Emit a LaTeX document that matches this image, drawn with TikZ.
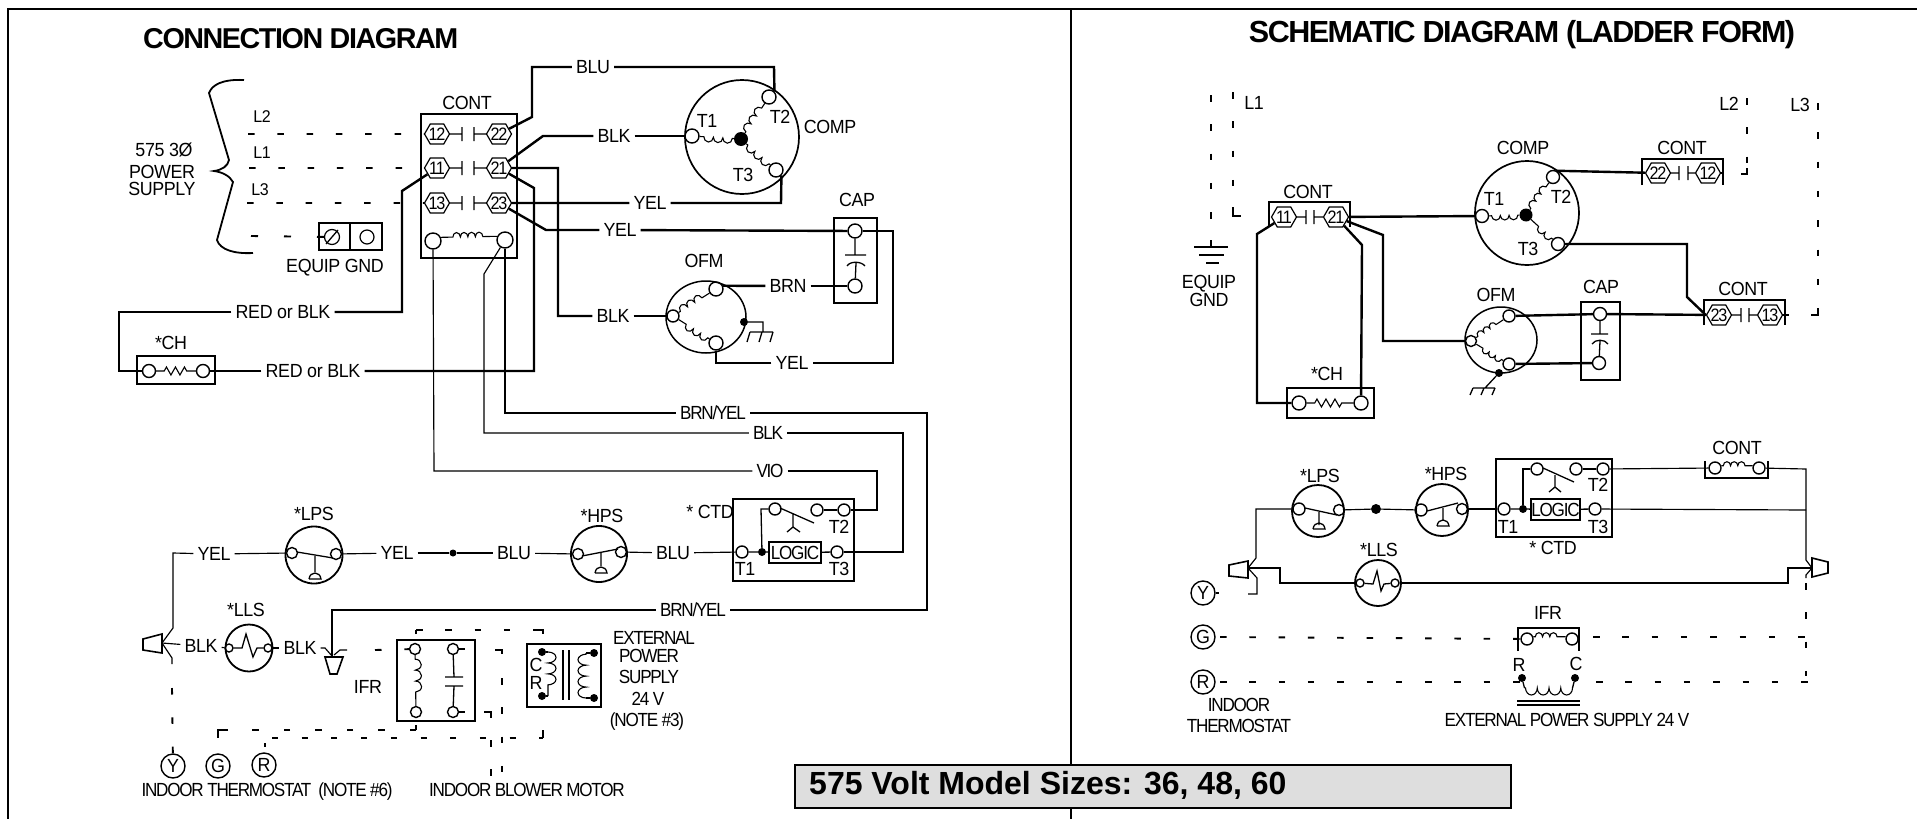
\documentclass[tikz,border=0pt]{standalone}
\usepackage{fontspec}
\setmainfont{Liberation Sans}[LetterSpace=-2,FakeStretch=0.94]
\newfontfamily\boxfont{Liberation Sans}
\newfontfamily\ttlfont{Liberation Sans}[LetterSpace=-5]
\newfontfamily\condfam{Liberation Sans}[LetterSpace=-6.5,FakeStretch=0.9]
\usetikzlibrary{shapes.geometric,shapes.symbols,decorations.pathmorphing}
\newcommand{\lblfont}{\fontsize{19}{21}\selectfont}
\newcommand{\hexfont}{\condfam\fontsize{18}{20}\selectfont}
\newcommand{\bellsym}[2]{\draw[devline,shift={(#1,#2)}] (-6,0) -- (6,0) .. controls (5,-8) and (-5,-8) .. (-6,0);}
\tikzset{
 wthick/.style={line width=2.4},
 wthin/.style={line width=1.15},
 devline/.style={line width=1.3},
 dashw/.style={line width=1.9,dash pattern=on 6.5pt off 22.8pt},
 lab/.style={inner xsep=4,inner ysep=0,font=\lblfont},
 labc/.style={inner xsep=4,inner ysep=0,font=\condfam\lblfont},
 txt/.style={inner sep=0,font=\lblfont},
 txts/.style={inner sep=0,font=\fontsize{17}{19}\selectfont},
 txtc/.style={inner sep=0,font=\condfam\lblfont},
 term/.style={circle,draw,line width=1.4,minimum size=13,inner sep=0},
 sterm/.style={circle,draw,line width=1.4,minimum size=10,inner sep=0},
 fdot/.style={circle,fill=black,minimum size=8,inner sep=0},
 sdot/.style={circle,fill=black,minimum size=14,inner sep=0},
 hexn/.style={shape=signal,signal to=east and west,signal pointer angle=120,draw,line width=1.2,minimum width=25,minimum height=20,inner sep=0,font=\hexfont},
 boxn/.style={rectangle,draw,line width=1.6,inner sep=0},
 gcirc/.style={circle,draw,line width=1.4,minimum size=24,inner sep=0,font=\lblfont},
 swc/.style={circle,draw,line width=1.8,inner sep=0},
 bumpw/.style={line width=1.1,decorate,decoration={bumps,segment length=19,amplitude=5,pre=lineto,pre length=1.5,post=lineto,post length=1.5}},
 bumpq/.style={line width=1.1,decorate,decoration={bumps,segment length=17.5,amplitude=4.5,pre=lineto,pre length=1.5,post=lineto,post length=1.5}},
 bumpo/.style={line width=1.1,decorate,decoration={bumps,segment length=17,amplitude=5,pre=lineto,pre length=2,post=lineto,post length=2}},
 bumpc/.style={line width=1.1,decorate,decoration={bumps,segment length=15,amplitude=4.5,pre=lineto,pre length=12,post=lineto,post length=12}},
 bumpsm/.style={line width=1.1,decorate,decoration={bumps,segment length=14.5,amplitude=4,pre=lineto,pre length=2,post=lineto,post length=2}},
 bumpx/.style={line width=1.1,decorate,decoration={bumps,segment length=21.9,amplitude=8,pre=lineto,pre length=0,post=lineto,post length=0}},
 zigw/.style={line width=1.1,decorate,decoration={zigzag,segment length=9,amplitude=4,pre=lineto,pre length=8,post=lineto,post length=8}},
}
\begin{document}
\begin{tikzpicture}[x=1pt,y=-1pt]
\useasboundingbox (0,0) rectangle (1917,819);
\coordinate (fTL) at (8,9); \coordinate (fTR) at (1917,9); \coordinate (fBL) at (8,819);
\coordinate (fDT) at (1071,9); \coordinate (fDB) at (1071,819);
\draw[line width=2.4] (fBL) -- (fTL) -- (fTR);
\draw[line width=2] (fDT) -- (fDB);
\node[inner sep=0,anchor=west,font=\ttlfont\fontsize{28.7}{30}\selectfont\bfseries] (tConn) at (143,39) {CONNECTION DIAGRAM};
\node[inner sep=0,font=\ttlfont\fontsize{30.5}{32}\selectfont\bfseries] (tSchem) at (1522,35) {SCHEMATIC DIAGRAM (LADDER FORM)};
% ---------------- supply
\draw[line width=1.8] (253,253) .. controls (235,254) and (220,250) .. (217,240) -- (233,182) .. controls (230,176) and (222,172) .. (214,171) .. controls (222,170) and (228,166) .. (229,160) -- (209,93) .. controls (212,85) and (222,79) .. (244,80);
\node[txt] (t575) at (164,150) {575 3Ø};
\node[txt] (tPow) at (162,172) {POWER};
\node[txt] (tSup) at (162,189) {SUPPLY};
\node[txts] (tL2) at (262,117) {L2};
\node[txts] (tL1) at (262,153) {L1};
\node[txts] (tL3) at (260,190) {L3};
\node[hexn] (h12) at (437,134) {\makebox[0pt]{12}};
\node[hexn] (h22) at (499,134) {\makebox[0pt]{22}};
\node[hexn] (h11) at (437,168) {\makebox[0pt]{11}};
\node[hexn] (h21) at (499,168) {\makebox[0pt]{21}};
\node[hexn] (h13) at (437,203) {\makebox[0pt]{13}};
\node[hexn] (h23) at (499,203) {\makebox[0pt]{23}};
\node[boxn,line width=2.2,minimum width=96,minimum height=144] (cCONT) at (469,186) {};
\node[txt] at (467,103) (tCont) {CONT};
\foreach \ya/\yb/\na/\nb in {134/134/h12/h22,168/168/h11/h21,203/203/h13/h23}{
  \draw[devline] (\na) -- (462,\ya) (462,\ya-7) -- (462,\ya+7) (474,\ya-7) -- (474,\ya+7) (474,\ya) -- (\nb);
}
\coordinate (dL2) at (248,134); \coordinate (dL1) at (249,168); \coordinate (dL3) at (247,203); \coordinate (dG) at (251,236);
\draw[dashw] (dL2) -- (h12);
\draw[dashw] (dL1) -- (h11);
\draw[dashw] (dL3) -- (h13);
\node[boxn,minimum width=63,minimum height=27] (gBox) at (350.5,236.5) {};
\draw[devline] (350,223) -- (350,250);
\node[swc,line width=1.2,minimum size=15] (gSl) at (332,237) {};
\node[swc,line width=1.2,minimum size=14] (gOp) at (367,237) {};
\draw[devline] (326,244) -- (338,230);
\draw[line width=1.9,dash pattern=on 7pt off 26pt] (dG) -- (gSl);
\node[txt] (tEq) at (335,268) {EQUIP GND};
\node[term,minimum size=16] (cC1) at (433,241) {};
\node[term,minimum size=16] (cC2) at (505,240) {};
\draw[bumpc] (cC1.25) -- (cC2.155);
% ---------------- compressor
\node[circle,draw,line width=1.7,minimum size=114,inner sep=0] (cCOMP) at (742,137) {};
\node[term,minimum size=14] (cT1) at (692,136) {};
\node[term,minimum size=14] (cT2) at (769,97) {};
\node[term,minimum size=14] (cT3) at (776,170) {};
\node[sdot] (cCen) at (741,139) {};
\draw[bumpw] (cCen) -- (cT1);
\draw[bumpw] (cCen) -- (cT2);
\draw[bumpw] (cT3) -- (cCen);
\node[txt] (tT1) at (707,121) {T1};
\node[txt] (tT2) at (780,117) {T2};
\node[txt] (tT3) at (743,175) {T3};
\node[txt] (tCOMP) at (830,127) {COMP};
% ---------------- OFM, CAP
\node[ellipse,draw,line width=1.5,minimum width=80,minimum height=72,inner sep=0] (cOFM) at (706,317) {};
\node[term,minimum size=14] (oT) at (716,289) {};
\node[term,minimum size=12] (oL) at (673,316) {};
\node[term,minimum size=14] (oB) at (716,343) {};
\draw[bumpo] (oL) -- (oT);
\draw[bumpo] (oB) -- (oL);
\node[fdot] (oD) at (744,322) {};
\draw[devline] (oD) -- (763,322) -- (763,332) (750,332) -- (773,332) (750,332) -- (747,342) (762,332) -- (759,342) (773,332) -- (770,342);
\node[txt] (tOFM) at (704,261) {OFM};
\node[boxn,minimum width=43,minimum height=85] (cCAP) at (855.5,260.5) {};
\node[term,minimum size=14] (cCt) at (855,231) {};
\node[term,minimum size=14] (cCb) at (855,286) {};
\draw[devline] (cCt) -- (855,255) (845,255) -- (866,255) (847,266) .. controls (850,261) and (861,261) .. (865,266) (856,263) -- (cCb);
\node[txt] (tCAP) at (857,200) {CAP};
% ---------------- labels on power wires
\node[lab] (lBLU) at (593,67) {BLU};
\node[lab] (lBLK1) at (614,136) {BLK};
\node[lab] (lYEL1) at (650,203) {YEL};
\node[lab] (lYEL2) at (620,230) {YEL};
\node[lab] (lBLK2) at (613,316) {BLK};
\node[lab] (lBRN) at (788,286) {BRN};
\node[lab] (lYEL3) at (792,363) {YEL};
\node[lab] (lRB1) at (283,312) {RED or BLK};
\node[lab] (lRB2) at (313,371) {RED or BLK};
% ---------------- CH
\node[boxn,minimum width=78,minimum height=28] (cCH) at (176,370) {};
\node[term,minimum size=13] (cH1) at (149,371) {};
\node[term,minimum size=13] (cH2) at (203,371) {};
\draw[zigw] (cH1) -- (cH2);
\node[txt] (tCH) at (171,343) {*CH};
% ---------------- thick wires
\draw[wthick] (h22) -- (532,117) -- (532,67) -- (lBLU);
\draw[wthick] (lBLU) -- (774,67) -- (cT2.north east);
\draw[wthick] (h21) -- (543,136) -- (lBLK1);
\draw[wthick] (lBLK1) -- (cT1);
\draw[wthick] (h21) -- (558,168) -- (558,316) -- (lBLK2);
\draw[wthick] (lBLK2) -- (oL);
\draw[wthick] (h21) -- (534,188) -- (534,371) -- (lRB2);
\draw[wthick] (lRB2) -- (cH2);
\draw[wthick] (h23) -- (lYEL1);
\draw[wthick] (lYEL1) -- (781,203) -- (cT3.south east);
\draw[wthick] (h23) -- (546,230) -- (lYEL2);
\draw[wthick] (lYEL2) -- (cCt);
\draw[wthick] (cCt) -- (893,231) -- (893,363) -- (lYEL3);
\draw[wthick] (lYEL3) -- (716,363) -- (oB);
\draw[wthick] (oT.25) -- (lBRN);
\draw[wthick] (lBRN) -- (cCb);
\draw[wthick] (h11) -- (402,191) -- (402,312) -- (lRB1);
\draw[wthick] (lRB1) -- (119,312) -- (119,371) -- (cH1);
% ---------------- control row, left
\node[circle,draw,line width=1.8,minimum size=57,inner sep=0] (lpsC) at (314,555) {};
\node[sterm,minimum size=11] (lpsA) at (292,553) {};
\node[sterm,minimum size=11] (lpsB) at (336,554) {};
\draw[devline] (297,552) -- (333,558) (315,556) -- (315,572);
\bellsym{315}{579}
\node[txt] (tLPS) at (314,514) {*LPS};
\node[circle,draw,line width=1.8,minimum size=56,inner sep=0] (hpsC) at (599,554) {};
\node[sterm,minimum size=11] (hpsA) at (578,554) {};
\node[sterm,minimum size=11] (hpsB) at (621,552) {};
\draw[devline] (582,556) -- (618,549) (601,552) -- (601,566);
\bellsym{601}{573}
\node[txt] (tHPS) at (602,516) {*HPS};
\node[fdot,minimum size=7] (dotJ) at (453,553) {};
\node[lab] (lYa) at (214,554) {YEL};
\node[lab] (lYb) at (397,553) {YEL};
\node[lab] (lBa) at (514,553) {BLU};
\node[lab] (lBb) at (673,553) {BLU};
\node[labc] (lVIO) at (770,471) {VIO};
\node[labc] (lBLK3) at (768,433) {BLK};
\node[labc] (lBY1) at (713,413) {BRN/YEL};
\node[labc] (lBY2) at (693,610) {BRN/YEL};
% CTD
\node[boxn,minimum width=121,minimum height=82] (dCTD) at (793.5,540) {};
\node[boxn,line width=1.4,minimum width=52,minimum height=21,font=\condfam\lblfont] (dLOG) at (795,552.5) {LOGIC};
\node[term,minimum size=12] (dT1) at (742,552) {};
\node[term,minimum size=12] (dT2) at (844,510) {};
\node[term,minimum size=12] (dT3) at (837,552) {};
\node[term,minimum size=12] (dM) at (817,510) {};
\node[term,minimum size=12] (dC) at (775,509) {};
\node[fdot] (dJ) at (762,552) {};
\draw[devline] (dT1) -- (dJ) -- (dLOG);
\draw[devline] (dLOG) -- (dT3);
\draw[devline] (dJ) -- (761,509) -- (dC);
\draw[devline] (dM) -- (dT2);
\draw[devline] (780,508) -- (814,523) (793,514) -- (793,527) (787,532) -- (793,527) -- (800,532);
\node[txt] (tdT2) at (839,527) {T2};
\node[txt] (tdT1) at (745,569) {T1};
\node[txt] (tdT3) at (839,569) {T3};
\node[txt] (tCTD) at (710,512) {* CTD};
% plugs
\coordinate (pL) at (162,643); \coordinate (pR) at (332,656);
\draw[line width=1.6] (162,634) -- (162,653) -- (143,650) -- (143,639) -- cycle;
\draw[line width=1.6] (325,657) -- (343,657) -- (337,674) -- (330,674) -- cycle;
% LLS
\node[circle,draw,line width=1.8,minimum size=47,inner sep=0] (llsC) at (249,648) {};
\node[sterm,minimum size=8] (llsA) at (229,648) {};
\node[sterm,minimum size=8] (llsB) at (268,648) {};
\draw[devline] (llsA) -- (242,648) -- (246,634) -- (253,657) -- (257,648) -- (llsB);
\node[txt] (tLLS) at (246,610) {*LLS};
\node[lab] (lBKa) at (201,646) {BLK};
\node[lab] (lBKb) at (300,648) {BLK};
\draw[wthin] (pL) -- (173,628) -- (173,553) -- (lYa);
\draw[wthin] (lYa) -- (lpsA);
\draw[wthin] (lpsB) -- (lYb);
\draw[wthin] (lYb) -- (dotJ);
\draw[wthin] (dotJ) -- (lBa);
\draw[wthin] (lBa) -- (hpsA);
\draw[wthin] (hpsB) -- (lBb);
\draw[wthin] (lBb) -- (dT1);
\draw[wthin] (pL) -- (lBKa);
\draw[wthin] (lBKa) -- (llsA);
\draw[wthin] (llsB) -- (lBKb);
\draw[wthin] (lBKb) -- (325,648) -- (pR);
\draw[wthin] (cC1) -- (434,471) -- (lVIO);
\draw[wthin] (lVIO) -- (877,471) -- (877,510) -- (dT2);
\draw[wthin] (cC2) -- (505,413) -- (lBY1);
\draw[wthin] (lBY1) -- (927,413) -- (927,610) -- (lBY2);
\draw[wthin] (lBY2) -- (332,610) -- (pR);
\draw[wthin] (cC2) -- (484,274) -- (484,433) -- (lBLK3);
\draw[wthin] (lBLK3) -- (903,433) -- (903,552) -- (dT3);
% IFR
\node[boxn,minimum width=78,minimum height=81] (iBox) at (436,680.5) {};
\node[sterm,minimum size=11] (iA) at (415,649) {};
\node[sterm,minimum size=11] (iB) at (416,712) {};
\node[sterm,minimum size=11] (iC) at (453,649) {};
\node[sterm,minimum size=11] (iD) at (453,712) {};
\draw[line width=1.1,decorate,decoration={bumps,segment length=21.9,amplitude=6,pre=lineto,pre length=4,post=lineto,post length=4}] (iA) -- (iB);
\draw[devline] (iC) -- (454,677) (445,677) -- (463,677) (445,686) -- (463,686) (454,686) -- (iD);
\node[txt] (tIFR) at (368,687) {IFR};
% transformer
\node[boxn,minimum width=74,minimum height=63] (xBox) at (564,675.5) {};
\node[fdot] (xA) at (542,652) {};
\node[fdot] (xB) at (542,696) {};
\node[fdot] (xC) at (594,653) {};
\node[fdot] (xD) at (594,698) {};
\draw[devline] (xA) -- (548,652) (xB) -- (548,696) (xC) -- (586,653) (xD) -- (586,698) (563,650) -- (563,700) (569,650) -- (569,700);
\draw[bumpx] (548,652) -- (548,696);
\draw[bumpx] (586,698) -- (586,653);
\node[txt] (tC) at (536,665) {C};
\node[txt] (tR) at (536,683) {R};
\node[txtc] (tE1) at (654,638) {EXTERNAL};
\node[txtc] (tE2) at (649,656) {POWER};
\node[txtc] (tE3) at (649,677) {SUPPLY};
\node[txtc] (tE4) at (648,699) {24 V};
\node[txtc] (tE5) at (647,722) {(NOTE \#3)};
% thermostat
\node[gcirc] (gY) at (173,766) {Y};
\node[gcirc] (gG) at (218,766) {G};
\node[gcirc] (gR) at (264,765) {R};
\node[txtc] (tIT) at (267,792) {INDOOR THERMOSTAT\ \ (NOTE \#6)};
\node[txtc] (tIB) at (527,790) {INDOOR BLOWER MOTOR};
\coordinate (k1) at (172,688); \coordinate (k2) at (172,658);
\draw[wthin] (pL) -- (k2) -- (172,664);
\draw[dashw] (k1) -- (gY);
\coordinate (k3) at (340,650); \coordinate (k4) at (375,650);
\draw[wthin] (334,655) -- (k3) -- (347,650);
\draw[dashw] (k4) -- (iA);
\coordinate (k5) at (416,630); \coordinate (k6) at (533,630);
\draw[wthin] (416,634) -- (k5);
\draw[dashw] (k5) -- (k6);
\draw[wthin] (k6) -- (543,630) -- (543,634);
\draw[wthick] (iC) -- (465,649);
\draw[wthick] (iD) -- (465,712);
\draw[wthick] (495,650) -- (502,650) -- (502,654);
\draw[wthick] (484,712) -- (491,712) -- (491,718);
\coordinate (k7) at (502,678); \coordinate (k8) at (502,772);
\draw[dashw] (k7) -- (k8);
\coordinate (k9) at (491,740); \coordinate (k10) at (491,776);
\draw[dashw] (k9) -- (k10);
\coordinate (k11) at (416,730); \coordinate (k12) at (222,730);
\draw[line width=1.9,dash pattern=on 6.5pt off 25pt] (k11) -- (k12);
\draw[wthin] (416,725) -- (k11);
\draw[wthin] (228,730) -- (218,730) -- (218,738);
\coordinate (k13) at (272,738); \coordinate (k14) at (543,738);
\draw[line width=1.9,dash pattern=on 6pt off 23.7pt] (k13) -- (k14);
\draw[wthin] (k14) -- (543,730);
\draw[wthin] (265,743) -- (265,747);
% title box
\node[rectangle,draw,line width=2.5,fill=black!13,minimum width=716,minimum height=43,inner sep=0] (bTitle) at (1153,786.5) {};
\node[inner sep=0,anchor=west,font=\boxfont\fontsize{32}{34}\selectfont\bfseries] (bTxt) at (809,785) {575 Volt Model Sizes: 36, 48, 60};
% ================= schematic
\coordinate (q1) at (1211,95); \coordinate (q2) at (1211,240); \coordinate (q3) at (1233,92); \coordinate (q4) at (1233,214); \coordinate (gn) at (1211,247);
\draw[dashw] (q1) -- (q2);
\draw[dashw] (q3) -- (q4);
\draw[wthick] (1233,207) -- (1233,216) -- (1241,216);
\draw[wthick] (q2) -- (gn);
\draw[wthick] (1194,247) -- (1228,247) (1199,255) -- (1224,255) (1206,263) -- (1219,263);
\node[txt] (sL1) at (1254,103) {L1};
\node[txt] (sL2) at (1729,104) {L2};
\node[txt] (sL3) at (1800,105) {L3};
\node[txt] (sEq1) at (1209,284) {EQUIP};
\node[txt] (sEq2) at (1209,300) {GND};
\coordinate (q5) at (1747,98); \coordinate (q6) at (1747,166); \coordinate (q7) at (1818,103); \coordinate (q8) at (1818,312);
\draw[dashw] (q5) -- (q6);
\draw[dashw] (q7) -- (q8);
\draw[wthick] (1741,174) -- (1747,174) -- (1747,168);
\draw[wthick] (1811,315) -- (1818,315) -- (1818,309);
% cont blocks
\node[hexn] (sh11) at (1284,217) {\makebox[0pt]{11}};
\node[hexn] (sh21) at (1336,217) {\makebox[0pt]{21}};
\node[hexn] (sh22) at (1658,173) {\makebox[0pt]{22}};
\node[hexn] (sh12) at (1708,173) {\makebox[0pt]{12}};
\node[hexn] (sh23) at (1719,315) {\makebox[0pt]{23}};
\node[hexn] (sh13) at (1770,315) {\makebox[0pt]{13}};
\node[txt] (sC1) at (1308,192) {CONT};
\node[txt] (sC2) at (1682,148) {CONT};
\node[txt] (sC3) at (1743,289) {CONT};
\draw[wthick] (1269,227) -- (1269,202) -- (1350,202) -- (1350,227);
\draw[wthick] (1642,185) -- (1642,159) -- (1723,159) -- (1723,185);
\draw[wthick] (1704,325) -- (1704,300) -- (1785,300) -- (1785,325);
\draw[devline] (sh11) -- (1306,217) (1306,210) -- (1306,224) (1314,210) -- (1314,224) (1314,217) -- (sh21);
\draw[devline] (sh22) -- (1679,173) (1679,166) -- (1679,180) (1688,166) -- (1688,180) (1688,173) -- (sh12);
\draw[devline] (sh23) -- (1741,315) (1741,308) -- (1741,322) (1749,308) -- (1749,322) (1749,315) -- (sh13);
\draw[wthick] (sh12.east) -- (1723,173);
\draw[wthick] (sh13.east) -- (1789,315);
% comp
\node[circle,draw,line width=1.7,minimum size=104,inner sep=0] (sCOMP) at (1527,213) {};
\node[term] (sT1) at (1482,216) {};
\node[term] (sT2) at (1553,177) {};
\node[term] (sT3) at (1558,244) {};
\node[sdot,minimum size=13] (sCen) at (1526,215) {};
\draw[bumpq] (sCen) -- (sT1);
\draw[bumpq] (sCen) -- (sT2);
\draw[bumpq] (sT3) -- (sCen);
\node[txt] (stT1) at (1494,199) {T1};
\node[txt] (stT2) at (1561,197) {T2};
\node[txt] (stT3) at (1528,249) {T3};
\node[txt] (sCOMPt) at (1523,148) {COMP};
% ofm
\node[ellipse,draw,line width=1.5,minimum width=72,minimum height=66,inner sep=0] (sOFM) at (1501,340) {};
\node[term,minimum size=12] (sOT) at (1509,316) {};
\node[term,minimum size=11] (sOL) at (1471,341) {};
\node[term,minimum size=12] (sOB) at (1509,364) {};
\draw[bumpsm] (sOL) -- (sOT);
\draw[bumpsm] (sOB) -- (sOL);
\node[fdot] (sOD) at (1499,373) {};
\draw[devline] (sOD) -- (1485,388) (1473,388) -- (1495,388) (1473,388) -- (1470,395) (1484,388) -- (1481,395) (1495,388) -- (1492,395);
\node[txt] (sOFMt) at (1496,295) {OFM};
% cap
\node[boxn,minimum width=39,minimum height=78] (sCAP) at (1600.5,341) {};
\node[term] (sCt) at (1600,314) {};
\node[term] (sCb) at (1599,363) {};
\draw[devline] (sCt) -- (1600,334) (1591,334) -- (1608,334) (1592,344) .. controls (1595,339) and (1605,339) .. (1608,344) (1600,341) -- (sCb);
\node[txt] (sCAPt) at (1601,287) {CAP};
% ch
\node[boxn,minimum width=87,minimum height=30] (sCH) at (1330.5,403) {};
\node[term,minimum size=14] (sH1) at (1299,403) {};
\node[term,minimum size=14] (sH2) at (1361,403) {};
\draw[zigw] (sH1) -- (sH2);
\node[txt] (sCHt) at (1327,374) {*CH};
% power wires
\draw[wthick] (sh21) -- (sT1);
\draw[wthick] (sT2.60) -- (sh22);
\draw[wthick] (sT3) -- (1687,244) -- (1687,297) -- (sh23.west);
\draw[wthick] (sOT) -- (sCt);
\draw[wthick] (sCt) -- (sh23);
\draw[wthick] (sOB) -- (sCb);
\draw[wthick] (sh21) -- (1383,235) -- (1383,341) -- (sOL);
\draw[wthick] (sh21) -- (1362,245) -- (sH2);
\draw[wthick] (sh11) -- (1257,234) -- (1257,403) -- (sH1);
% control row right
\node[circle,draw,line width=1.8,minimum size=52,inner sep=0] (sLC) at (1318,511) {};
\node[term,minimum size=12] (sLA) at (1299,509) {};
\node[term,minimum size=11] (sLB) at (1339,510) {};
\draw[devline] (1305,508) -- (1337,515) (1319,512) -- (1319,525);
\bellsym{1319}{529}
\node[txt] (sLPSt) at (1320,476) {*LPS};
\node[circle,draw,line width=1.8,minimum size=52,inner sep=0] (sHC) at (1442,510) {};
\node[term,minimum size=12] (sHA) at (1421,510) {};
\node[term,minimum size=11] (sHB) at (1462,509) {};
\draw[devline] (1427,511) -- (1458,503) (1443,508) -- (1443,520);
\bellsym{1443}{526}
\node[txt] (sHPSt) at (1446,474) {*HPS};
\node[fdot,minimum size=10] (sJ) at (1376,509) {};
\node[boxn,minimum width=116,minimum height=78] (sCTD) at (1554,498) {};
\node[boxn,line width=1.4,minimum width=49,minimum height=21,font=\condfam\lblfont] (sLOG) at (1555.5,509.5) {LOGIC};
\node[term,minimum size=12] (sD1) at (1504,509) {};
\node[term,minimum size=12] (sD2) at (1603,469) {};
\node[term,minimum size=12] (sD3) at (1595,509) {};
\node[term,minimum size=12] (sDM) at (1576,469) {};
\node[term,minimum size=12] (sDC) at (1537,469) {};
\node[fdot] (sDJ) at (1523,509) {};
\draw[devline] (sD1) -- (sDJ) -- (sLOG);
\draw[devline] (sLOG) -- (sD3);
\draw[devline] (sDJ) -- (1523,469) -- (sDC);
\draw[devline] (sDM) -- (sD2);
\draw[devline] (1543,468) -- (1574,482) (1555,475) -- (1555,487) (1549,492) -- (1555,487) -- (1561,492);
\node[txt] (stD2) at (1598,485) {T2};
\node[txt] (stD1) at (1508,527) {T1};
\node[txt] (stD3) at (1598,527) {T3};
\node[txt] (sCTDt) at (1553,548) {* CTD};
% plugs and LLS
\coordinate (spL) at (1248,568); \coordinate (spR) at (1812,568); \coordinate (sYs) at (1248,594);
\draw[line width=1.6] (1248,561) -- (1248,578) -- (1229,576) -- (1229,565) -- cycle;
\draw[line width=1.6] (1812,558) -- (1828,562) -- (1828,573) -- (1812,577) -- cycle;
\node[circle,draw,line width=1.8,minimum size=46,inner sep=0] (sLLS) at (1378,583) {};
\node[sterm,minimum size=8] (sLlA) at (1360,583) {};
\node[sterm,minimum size=8] (sLlB) at (1395,583) {};
\draw[devline] (sLlA) -- (1373,584) -- (1377,571) -- (1381,591) -- (1384,584) -- (sLlB);
\node[txt] (sLLSt) at (1379,550) {*LLS};
% CONT coil
\node[term,minimum size=12] (sIc1) at (1715,468) {};
\node[term,minimum size=12] (sIc2) at (1759,468) {};
\draw[bumpsm] (sIc1.20) -- (sIc2.160);
\draw[wthick] (1705,461) -- (1705,478) -- (1768,478) -- (1768,461);
\node[txt] (sCoilT) at (1737,448) {CONT};
\coordinate (sR1) at (1806,469); \coordinate (sR2) at (1806,510);
\draw[wthin] (sLA) -- (1256,509) -- (1256,558) -- (spL);
\draw[wthin] (sLB) -- (sJ);
\draw[wthin] (sJ) -- (sHA);
\draw[wthin] (sHB) -- (sD1);
\draw[wthin] (spL) -- (1280,568) -- (1280,583) -- (sLlA);
\draw[wthin] (spL) -- (1257,578) -- (1257,594) -- (sYs);
\draw[wthin] (sLlB) -- (1788,583) -- (1788,568) -- (spR);
\draw[wthin] (sD2) -- (sIc1);
\draw[wthin] (sIc2) -- (sR1) -- (1806,560) -- (spR);
\draw[wthin] (spR) -- (1806,575) -- (1806,578);
\draw[wthin] (sD3) -- (sR2);
% Y G R
\node[gcirc] (sY) at (1203,593) {Y};
\node[gcirc] (sG) at (1203,637) {G};
\node[gcirc] (sR) at (1203,682) {R};
\draw[wthin] (sY) -- (1219,593);
\node[txtc] (sIn1) at (1239,705) {INDOOR};
\node[txtc] (sIn2) at (1239,726) {THERMOSTAT};
% IFR schematic
\node[txt] (sIFRt) at (1548,613) {IFR};
\node[term,minimum size=12] (sIf1) at (1527,639) {};
\node[term,minimum size=12] (sIf2) at (1572,639) {};
\draw[bumpsm] (sIf1.20) -- (sIf2.160);
\draw[devline] (1518,651) -- (1518,628) -- (1579,628) -- (1579,651);
\node[fdot] (sXr) at (1522,678) {};
\node[fdot] (sXc) at (1575,678) {};
\node[txt] (sRt) at (1519,665) {R};
\node[txt] (sCt2) at (1576,664) {C};
\draw[devline] (sXr) -- (1524.5,688) (sXc) -- (1572.5,688);
\draw[line width=1.1,decorate,decoration={bumps,segment length=23.5,amplitude=7}] (1572.5,688) -- (1524.5,688);
\draw[devline] (1517,701) -- (1580,701) (1517,705) -- (1580,705);
\node[txtc] (sExt) at (1567,720) {EXTERNAL POWER SUPPLY 24 V};
\coordinate (r1) at (1220,637); \coordinate (r2) at (1593,637); \coordinate (r3) at (1806,637);
\coordinate (r4) at (1220,682); \coordinate (r5) at (1522,682); \coordinate (r6) at (1596,682); \coordinate (r7) at (1809,682);
\coordinate (r8) at (1806,583); \coordinate (r9) at (1806,676);
\draw[dashw] (r1) -- (sIf1);
\draw[dashw] (r2) -- (r3);
\draw[dashw] (r4) -- (r5);
\draw[dashw] (r6) -- (r7);
\draw[dashw] (r8) -- (r9);
\end{tikzpicture}
\end{document}
